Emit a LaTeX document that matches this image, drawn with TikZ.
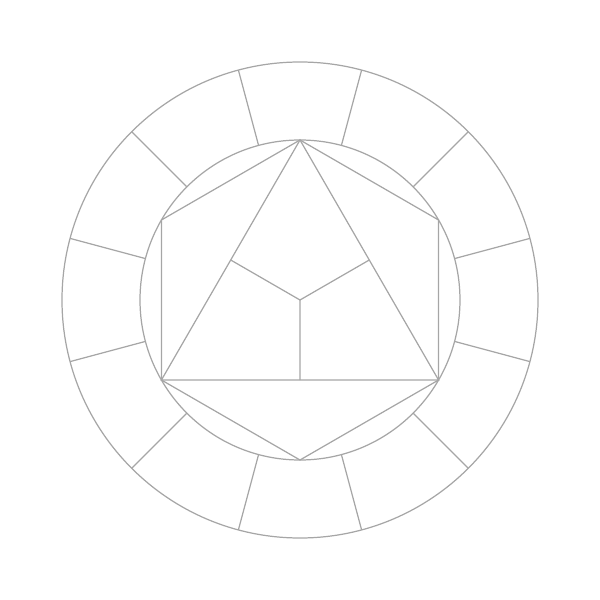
\documentclass[tikz,border=0pt]{standalone}
\usetikzlibrary{calc}

\begin{document}
\begin{tikzpicture}[wheel/.style={draw=black!35, line width=0.35pt}]
    \useasboundingbox (-3,-3) rectangle (3,3);
    \coordinate (centre) at (0,0);

    % rings
    \draw[wheel] (centre) circle (2.38);
    \draw[wheel] (centre) circle (1.6);
    \foreach \a in {15,45,...,345}
        \draw[wheel] (\a:1.6) -- (\a:2.38);

    % hexagon corners
    \foreach \a [count=\i] in {90,150,210,270,330,30}
        \coordinate (h\i) at (\a:1.6);
    \coordinate (m12) at ($(h1)!0.5!(h3)$);
    \coordinate (m23) at ($(h3)!0.5!(h5)$);
    \coordinate (m31) at ($(h5)!0.5!(h1)$);

    \draw[wheel] (h1) -- (h2) -- (h3) -- (h4) -- (h5) -- (h6) -- cycle;
    \draw[wheel] (h1) -- (h3) -- (h5) -- cycle;
    \draw[wheel] (centre) -- (m12)
                 (centre) -- (m23)
                 (centre) -- (m31);
\end{tikzpicture}
\end{document}
